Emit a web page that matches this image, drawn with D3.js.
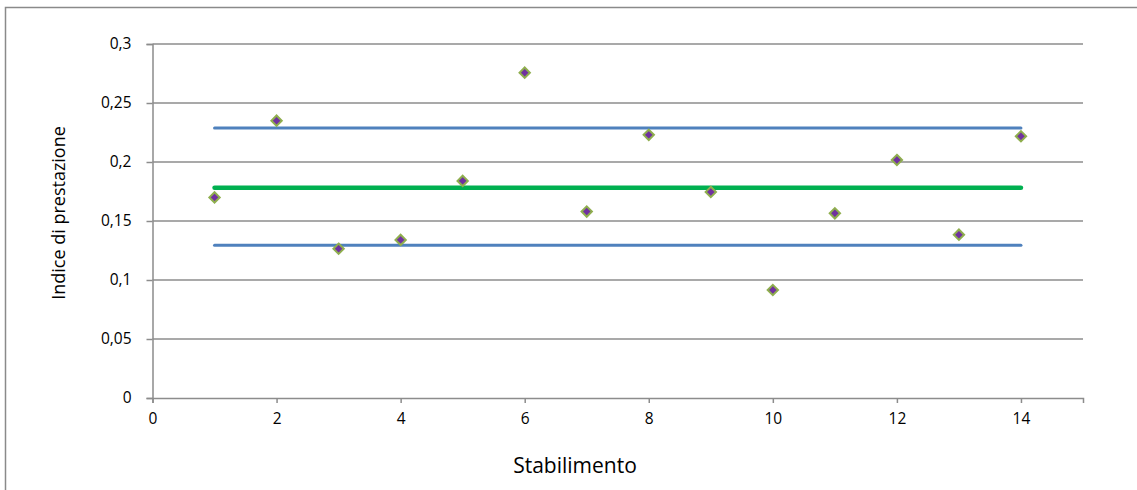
<!DOCTYPE html>
<html>
<head>
<meta charset="utf-8">
<script src="https://cdn.jsdelivr.net/npm/d3@7"></script>
<style>
  html, body { margin: 0; padding: 0; background: #fff; }
  svg { display: block; }
  text { font-family: "Open Sans", sans-serif; fill: #000; }
</style>
</head>
<body>
<svg id="chart" width="1137" height="490"></svg>
<script>
// Stabilimenti (plants) and their performance index
const stabilimenti = [1, 2, 3, 4, 5, 6, 7, 8, 9, 10, 11, 12, 13, 14];
const indice = [0.170, 0.235, 0.1265, 0.134, 0.184, 0.2757, 0.158, 0.223, 0.1746, 0.0915, 0.1565, 0.2017, 0.1384, 0.2218];

// Control lines: mean and upper / lower limits
const media = 0.1782;
const limiteSup = 0.2288;
const limiteInf = 0.1294;

const xTicks = [0, 2, 4, 6, 8, 10, 12, 14];
const yTicks = [0, 0.05, 0.1, 0.15, 0.2, 0.25, 0.3];

const svg = d3.select("#chart");
const gridColor = "#8c8c8c";
const font = "'Open Sans', sans-serif";

// Outer chart frame
svg.append("rect")
  .attr("x", 5.5).attr("y", 7.5)
  .attr("width", 1200).attr("height", 600)
  .attr("fill", "none").attr("stroke", "#8a8a8a").attr("stroke-width", 1.5);

const x = d3.scaleLinear().domain([0, 15]).range([152.5, 1083]);
const y = d3.scaleLinear().domain([0, 0.3]).range([398, 44]);

const fmt = d => String(d).replace(".", ",");

// Horizontal gridlines
svg.append("g")
  .selectAll("line")
  .data(yTicks.filter(d => d > 0))
  .join("line")
  .attr("x1", x(0)).attr("x2", x(15))
  .attr("y1", d => y(d)).attr("y2", d => y(d))
  .attr("stroke", gridColor).attr("stroke-width", 1.5);

// Y axis
const yAxis = svg.append("g")
  .attr("transform", `translate(${x(0)},0)`)
  .call(d3.axisLeft(y).tickValues(yTicks).tickFormat(fmt).tickSize(6).tickPadding(15));
yAxis.select(".domain").attr("stroke", gridColor).attr("stroke-width", 1.5);
yAxis.selectAll(".tick line").attr("stroke", gridColor).attr("stroke-width", 1.5);
yAxis.selectAll(".tick text").attr("font-size", 15.5).attr("font-family", font).attr("fill", "#000");

// X axis
const xAxis = svg.append("g")
  .attr("transform", `translate(0,${y(0)})`)
  .call(d3.axisBottom(x).tickValues(xTicks).tickFormat(d3.format("d")).tickSize(5).tickPadding(10));
xAxis.select(".domain").attr("stroke", gridColor).attr("stroke-width", 1.5);
xAxis.selectAll(".tick line").attr("stroke", gridColor).attr("stroke-width", 1.5);
xAxis.selectAll(".tick text").attr("font-size", 15.5).attr("font-family", font).attr("fill", "#000");

// Control lines spanning the plants
const xFirst = stabilimenti[0], xLast = stabilimenti[stabilimenti.length - 1];
const linee = [
  { v: limiteSup, color: "#4f81bd", w: 3 },
  { v: limiteInf, color: "#4f81bd", w: 3 },
  { v: media, color: "#00b050", w: 4.5 }
];
svg.append("g")
  .selectAll("line")
  .data(linee)
  .join("line")
  .attr("x1", x(xFirst)).attr("x2", x(xLast))
  .attr("y1", d => y(d.v)).attr("y2", d => y(d.v))
  .attr("stroke", d => d.color)
  .attr("stroke-width", d => d.w)
  .attr("stroke-linecap", "round");

// Diamond markers
const diamond = d3.symbol().type(d3.symbolDiamond2).size(68);
svg.append("g")
  .selectAll("path")
  .data(stabilimenti.map((s, i) => ({ s, v: indice[i] })))
  .join("path")
  .attr("d", diamond)
  .attr("transform", d => `translate(${x(d.s)},${y(d.v)})`)
  .attr("fill", "#7030a0")
  .attr("stroke", "#8fae4e")
  .attr("stroke-width", 2);

// Axis titles
svg.append("text")
  .attr("x", 575).attr("y", 473)
  .attr("text-anchor", "middle")
  .attr("font-size", 21)
  .text("Stabilimento");

svg.append("text")
  .attr("transform", "translate(65,213) rotate(-90)")
  .attr("text-anchor", "middle")
  .attr("font-size", 18)
  .text("Indice di prestazione");
</script>
</body>
</html>
